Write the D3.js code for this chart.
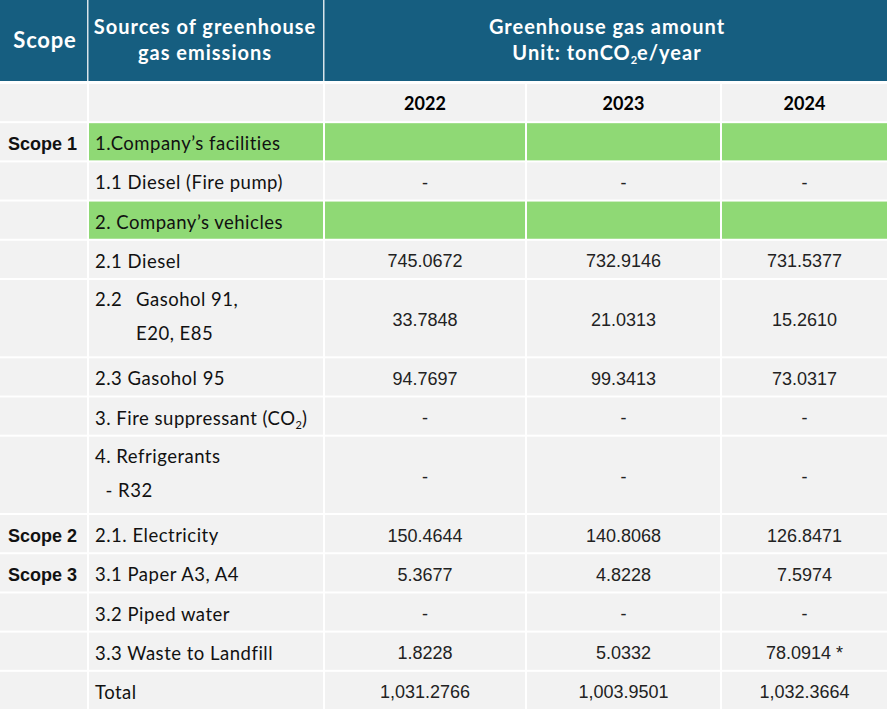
<!DOCTYPE html>
<html>
<head>
<meta charset="utf-8">
<script src="https://cdn.jsdelivr.net/npm/d3@7"></script>
<style>
  html, body { margin: 0; padding: 0; background: #ffffff; }
  svg { display: block; }
</style>
</head>
<body>
<div id="chart"></div>
<script>
// ---------------- DATA ----------------
const years = ["2022", "2023", "2024"];
const scopeLabels = ["Scope 1", "", "", "", "", "", "", "", "Scope 2", "Scope 3", "", "", ""];
const sourceLabels = [
  "1.Company\u2019s facilities",
  "1.1 Diesel (Fire pump)",
  "2. Company\u2019s vehicles",
  "2.1 Diesel",
  "2.2|Gasohol 91,\nE20, E85",
  "2.3 Gasohol 95",
  "3. Fire suppressant (CO_2)",
  "4. Refrigerants\n  - R32",
  "2.1. Electricity",
  "3.1 Paper A3, A4",
  "3.2 Piped water",
  "3.3 Waste to Landfill",
  "Total"
];
// null = section row (no values), 0 = shown as "-"
const values2022 = [null, 0, null, 745.0672, 33.7848, 94.7697, 0, 0, 150.4644, 5.3677, 0, 1.8228, 1031.2766];
const values2023 = [null, 0, null, 732.9146, 21.0313, 99.3413, 0, 0, 140.8068, 4.8228, 0, 5.0332, 1003.9501];
const values2024 = [null, 0, null, 731.5377, 15.2610, 73.0317, 0, 0, 126.8471, 7.5974, 0, 78.0914, 1032.3664];
const notes2024  = ["", "", "", "", "", "", "", "", "", "", "", " *", ""];
const headerScope = "Scope";
const headerSource = ["Sources of greenhouse", "gas emissions"];
const headerAmount = ["Greenhouse gas amount", "Unit: tonCO_2e/year"];

// ---------------- LAYOUT ----------------
const W = 887, H = 711;
const headerH = 81, bodyTop = 84, gap = 2;
const colEdges = [0, 89, 325, 527, 722, W];   // left edges of columns (+ right end)
const C = {
  header: "#165e80", body: "#f2f2f2", green: "#8fd975", line: "#ffffff",
  text: "#111111", num: "#222222"
};
const thaiLike = "Lato, 'Noto Sans', sans-serif";
const arialLike = "'Liberation Sans', Arial, sans-serif";

const valueCols = [values2022, values2023, values2024];
const fmt = d3.format(",.4f");

const rows = sourceLabels.map((lab, i) => ({
  i, scope: scopeLabels[i], label: lab,
  lines: lab.split("\n"),
  section: values2022[i] === null,
  vals: valueCols.map((arr, k) => arr[i] === null ? null : (arr[i] === 0 ? "-" : fmt(arr[i]) + (k === 2 ? notes2024[i] : "")))
}));
// row units (two-line labels take two units); year row is first unit
let acc = 1;
rows.forEach(r => { r.u0 = acc; r.span = r.lines.length; acc += r.span; r.u1 = acc; });
const totalUnits = acc;

const y = d3.scaleLinear().domain([0, totalUnits]).range([bodyTop, H]);
const colX = d3.scaleOrdinal().domain(d3.range(5)).range(colEdges.slice(0, 5));
const colW = k => colEdges[k + 1] - colEdges[k] - (k < 4 ? gap : 0);

const svg = d3.select("#chart").append("svg").attr("width", W).attr("height", H);
svg.append("rect").attr("width", W).attr("height", H).attr("fill", C.line);

// text helper with subscript support ("_2")
function richText(sel, str, subSize) {
  const parts = str.split(/_(\d)/);
  parts.forEach((p, idx) => {
    if (p === "") return;
    const t = sel.append("tspan").text(p);
    if (idx % 2 === 1) t.attr("font-size", subSize).attr("dy", 4).attr("letter-spacing", 0);
    else if (idx > 0) t.attr("dy", -4);
  });
}

// ---------- header ----------
const hdr = svg.append("g");
hdr.append("rect").attr("x", 0).attr("y", 0).attr("width", W).attr("height", headerH).attr("fill", C.header);
[87, 323].forEach(xv => hdr.append("rect").attr("x", xv).attr("y", 0).attr("width", 1.5).attr("height", headerH).attr("fill", "#d8e4ea"));
hdr.append("text").attr("x", 45).attr("y", 48).attr("text-anchor", "middle")
  .attr("font-family", thaiLike).attr("font-weight", 700).attr("font-size", 22).attr("letter-spacing", 0.8)
  .attr("fill", "#fff").text(headerScope);
headerSource.forEach((t, k) => hdr.append("text").attr("x", 205).attr("y", 34 + k * 26).attr("text-anchor", "middle")
  .attr("font-family", thaiLike).attr("font-weight", 700).attr("font-size", 20).attr("letter-spacing", 1)
  .attr("fill", "#fff").text(t));
headerAmount.forEach((t, k) => {
  const tx = hdr.append("text").attr("x", 607).attr("y", 34 + k * 26).attr("text-anchor", "middle")
    .attr("font-family", thaiLike).attr("font-weight", 700).attr("font-size", 20).attr("letter-spacing", 1)
    .attr("fill", "#fff");
  richText(tx, t, 11);
});

// ---------- body cells ----------
const body = svg.append("g");
// year row
d3.range(5).forEach(k => {
  body.append("rect").attr("x", colX(k)).attr("y", y(0)).attr("width", colW(k)).attr("height", y(1) - y(0) - gap).attr("fill", C.body);
});
years.forEach((yr, k) => body.append("text")
  .attr("x", colX(k + 2) + colW(k + 2) / 2).attr("y", (y(0) + y(1) - gap) / 2 + 7).attr("text-anchor", "middle")
  .attr("font-family", thaiLike).attr("font-weight", 700).attr("font-size", 18).attr("fill", "#000").text(yr));

const labelFont = sel => sel.attr("font-family", thaiLike).attr("font-size", 18.5).attr("letter-spacing", 0.5).attr("fill", C.text);

rows.forEach(r => {
  const top = y(r.u0), bot = y(r.u1) - gap, mid = (top + bot) / 2;
  d3.range(5).forEach(k => {
    body.append("rect").attr("x", colX(k)).attr("y", top).attr("width", colW(k)).attr("height", bot - top)
      .attr("fill", r.section && k > 0 ? C.green : C.body);
  });
  if (r.scope) body.append("text").attr("x", 8).attr("y", mid + 8.5)
    .attr("font-family", arialLike).attr("font-weight", 700).attr("font-size", 18).attr("fill", C.text).text(r.scope);
  const lh = 34;
  const base = r.lines.length > 1 ? mid + 5 : mid + 8.5;
  r.lines.forEach((ln, li) => {
    const by = base + (li - (r.lines.length - 1) / 2) * lh;
    if (ln.includes("|")) {
      const [a, b] = ln.split("|");
      body.append("text").attr("x", 95).attr("y", by).call(labelFont).text(a);
      body.append("text").attr("x", 136).attr("y", by).call(labelFont).text(b);
    } else {
      const tx = body.append("text").attr("x", r.i === 4 && li > 0 ? 136 : 95).attr("y", by)
        .call(labelFont).attr("xml:space", "preserve");
      richText(tx, ln, 11);
    }
  });
  r.vals.forEach((v, k) => {
    if (v === null) return;
    body.append("text").attr("x", colX(k + 2) + colW(k + 2) / 2).attr("y", mid + 8).attr("text-anchor", "middle")
      .attr("font-family", arialLike).attr("font-size", 18).attr("fill", C.num).text(v);
  });
});
</script>
</body>
</html>
